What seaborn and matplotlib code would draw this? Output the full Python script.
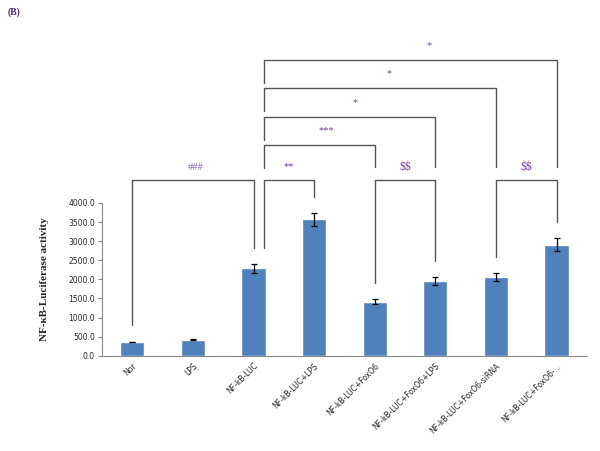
import numpy as np
import pandas as pd
import matplotlib
matplotlib.use('Agg')
import matplotlib.pyplot as plt
import seaborn as sns

groups = ['Nor', 'LPS', 'NF-kB-LUC', 'NF-kB-LUC+LPS', 'NF-kB-LUC+FoxO6',
          'NF-kB-LUC+FoxO6+LPS', 'NF-kB-LUC+FoxO6-siRNA', 'NF-kB-LUC+FoxO6-...']
activity = [360, 415, 2290, 3570, 1415, 1965, 2065, 2910]
sem = [12, 15, 120, 180, 70, 100, 110, 160]

# comparisons: (left bar, right bar, label)
low_brackets = [(0, 2, '###'), (2, 3, '**'), (4, 5, '$$'), (6, 7, '$$')]
# comparisons against NF-kB-LUC: (right bar, label, bracket height, label x)
high_brackets = [(4, '***', 5520, 3.2), (5, '*', 6260, 3.67), (6, '*', 7010, 4.23), (7, '*', 7750, 4.89)]
low_level = 4610

sns.set_style('white')
plt.rcParams['text.parse_math'] = False
df = pd.DataFrame({'group': groups, 'activity': activity})

fig = plt.figure(figsize=(6, 4.51), dpi=100)
ax = fig.add_axes([0.17, 0.2113, 0.808, 0.3386])
sns.barplot(data=df, x='group', y='activity', color='#4F81BD', saturation=1,
            width=0.4, errorbar=None, ax=ax)
ax.errorbar(range(len(groups)), activity, yerr=sem, fmt='none', ecolor='black',
            elinewidth=0.9, capsize=2.5, capthick=0.9)

ax.set_ylim(0, 4000)
ax.set_xlim(-0.5, len(groups) - 0.5)
ax.set_yticks(np.arange(0, 4001, 500))
ax.set_yticklabels(['%.1f' % v for v in np.arange(0, 4001, 500)], fontsize=5.5)
ax.set_xticks(range(len(groups)))
ax.set_xticklabels(groups, rotation=45, ha='right', rotation_mode='anchor', fontsize=5.5)
ax.tick_params(axis='x', length=0, pad=4)
ax.set_xticks(np.arange(-0.5, len(groups), 1), minor=True)
ax.tick_params(axis='x', which='minor', length=3, color='#888888', direction='out')
ax.tick_params(axis='y', length=3, color='#888888', direction='out', left=True, pad=2)
for s in ['top', 'right']:
    ax.spines[s].set_visible(False)
for s in ['left', 'bottom']:
    ax.spines[s].set_color('#888888')
    ax.spines[s].set_linewidth(0.8)
ax.set_xlabel('')
ax.set_ylabel('NF-\u03baB-Luciferase activity', family='Liberation Serif',
              fontweight='bold', fontsize=8, labelpad=14)

line_kw = dict(color='#555555', lw=1.0, clip_on=False)
gap = 420
off = 0.17


def leg_bottom(i):
    return activity[i] + sem[i] + gap


# lower brackets
for a, b, lab in low_brackets:
    xa = a + off if (a == 2 and b != 2) else a
    ax.plot([xa, xa, b, b], [leg_bottom(a), low_level, low_level, leg_bottom(b)], **line_kw)
    col = '#7A3FB0' if lab != '###' else '#9060C8'
    fs = 8.5 if lab == '$$' else 7.5
    ax.text((xa + b) / 2 + (0.05 if lab == '###' else 0), low_level + 330, lab,
            ha='center', va='center', color=col,
            fontsize=fs, family='Liberation Serif', clip_on=False)

# higher brackets from NF-kB-LUC
for b, lab, h, lx in high_brackets:
    ax.plot([2 + off, 2 + off], [h - 600, h], **line_kw)
    ax.plot([2 + off, b, b], [h, h, 4940], **line_kw)
    ax.text(lx, h + 380, lab, ha='center', va='center', color='#7A3FB0',
            fontsize=7.5, family='Liberation Serif', clip_on=False)

fig.text(0.012, 0.972, '(B)', family='Liberation Serif', fontsize=7, color='#4B2A80',
         fontweight='bold', ha='left', va='center')

fig.savefig('out.png', dpi=100)
